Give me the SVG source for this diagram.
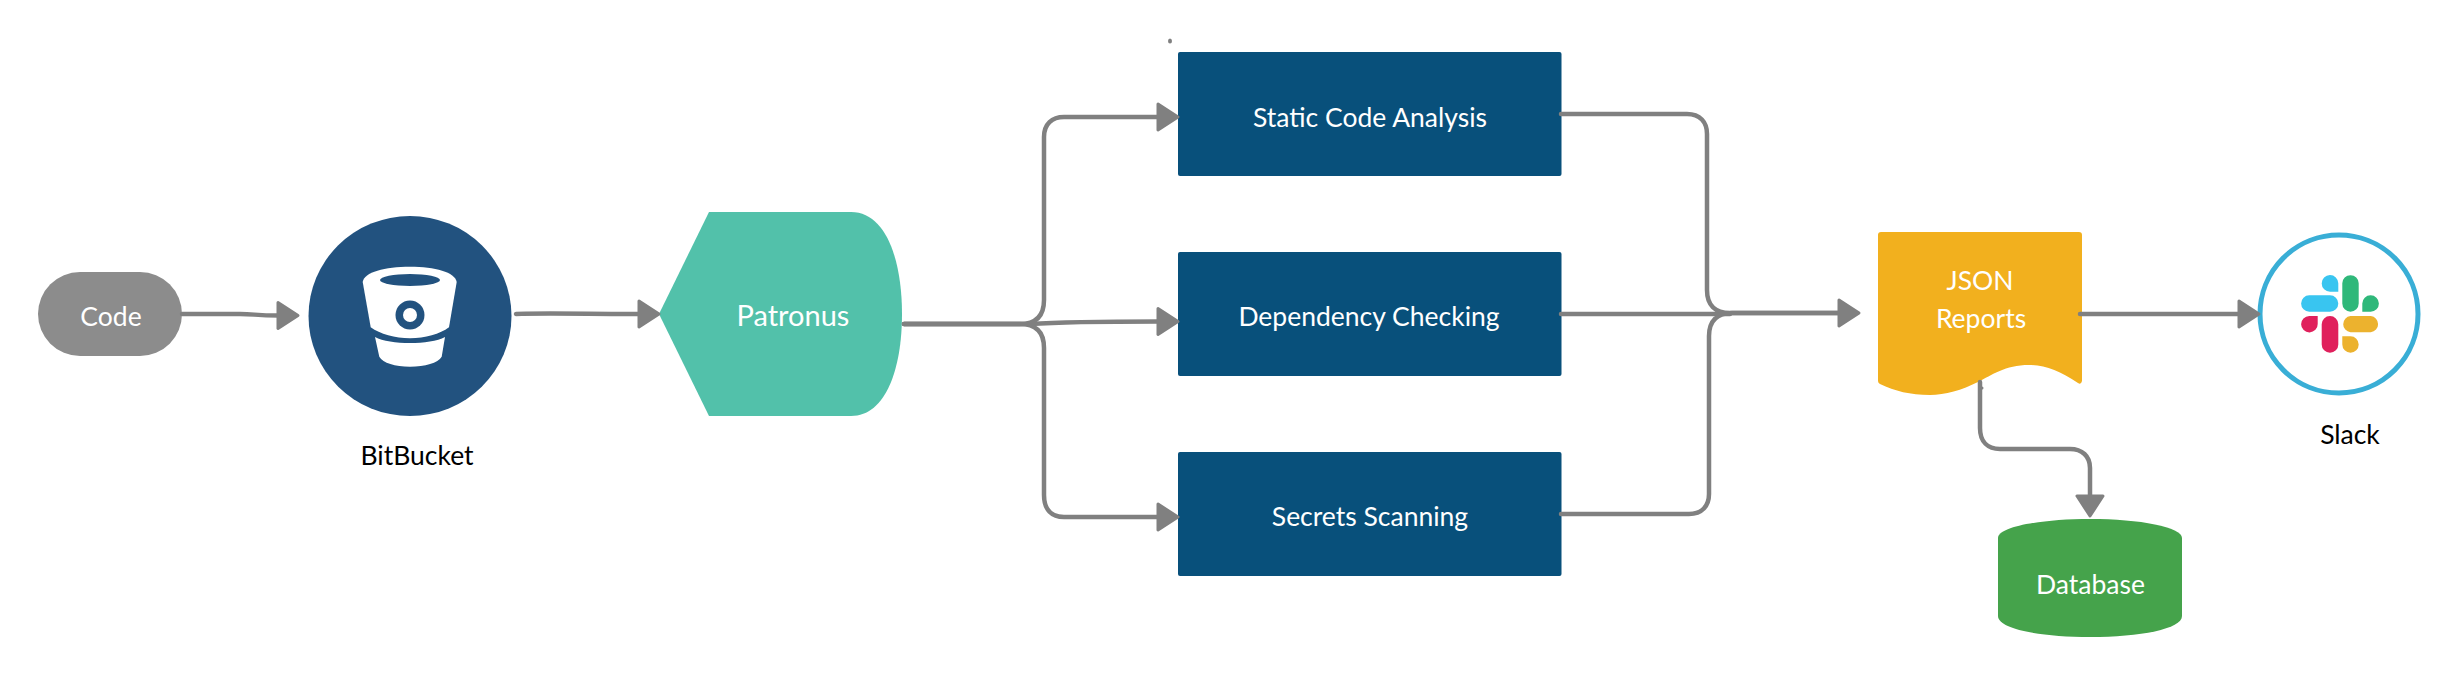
<svg xmlns="http://www.w3.org/2000/svg" width="2460" height="674" viewBox="0 0 2460 674">
<style>
.t{font-family:"Lato","Liberation Sans",sans-serif;font-size:26.500px;text-anchor:middle;fill:#fff}
.k{fill:#000}
.c{fill:none;stroke:#808080;stroke-width:4.500;stroke-linecap:round;stroke-linejoin:round}
.b{fill:#08507b}
</style>
<defs>
<marker id="a" markerUnits="userSpaceOnUse" markerWidth="28" markerHeight="34" refX="3" refY="16" orient="auto" overflow="visible">
<path d="M2 3L22 16L2 29z" fill="#808080" stroke="#808080" stroke-width="3" stroke-linejoin="round"/>
</marker>
</defs>
<rect width="2460" height="674" fill="#fff"/>
<g id="code"><rect x="38" y="272" width="144" height="84" rx="42" fill="#8c8c8c"/><text class="t" x="111" y="326">Code</text></g>
<g id="bitbucket">
<ellipse cx="410" cy="316" rx="101.500" ry="100" fill="#22527f"/>
<path fill="#fff" d="M362.700 282C364 272 385 266.700 410 266.700C435 266.700 455 272 456.700 282L449 327.300C440 334 425 338.300 410 338.300C395 338.300 380 334 370.700 327.300z"/>
<ellipse cx="410" cy="280" rx="30" ry="6" fill="#22527f"/>
<circle cx="410" cy="315" r="14.500" fill="#22527f"/><circle cx="410" cy="315" r="7" fill="#fff"/>
<path fill="#fff" d="M375 337C390 345 430 345 445 337L441.700 356.700C438 363 425 366.700 410 366.700C395 366.700 383 363 379.300 356.700z"/>
<text class="t k" x="417" y="465">BitBucket</text>
</g>
<g id="patronus"><path fill="#52c1aa" d="M709 212H851C886 212 902 260 902 314C902 368 886 416 851 416H709L659 314z"/><text class="t" style="font-size:29px" x="793" y="326">Patronus</text></g>
<g id="static"><rect class="b" x="1178" y="52" width="383.500" height="124" rx="2"/><text class="t" x="1370" y="126.500">Static Code Analysis</text></g>
<g id="dependency"><rect class="b" x="1178" y="252" width="383.500" height="124" rx="2"/><text class="t" x="1369" y="325.500">Dependency Checking</text></g>
<g id="secrets"><rect class="b" x="1178" y="452" width="383.500" height="124" rx="2"/><text class="t" x="1370" y="526">Secrets Scanning</text></g>
<g id="json"><path fill="#f2b01e" d="M1878 235q0-3 3-3H2079q3 0 3 3V381q-1 4-4 2C2060 371 2045 365 2029 365C2005 365 1992 375 1978 382C1962 390 1945 395 1930 395C1910 395 1895 391 1880 384q-2-1-2-3z"/><text class="t" x="1980" y="290">JSON</text><text class="t" x="1981" y="328">Reports</text></g>
<g id="database"><path fill="#45a34b" d="M1998 538C1998 527 2040 519 2090 519C2140 519 2182 527 2182 538V616C2182 629 2140 637 2090 637C2040 637 1998 629 1998 616z"/><text class="t" x="2090.500" y="594">Database</text></g>
<g id="slack">
<circle cx="2339" cy="314" r="79" fill="#fff" stroke="#39aed6" stroke-width="5"/>
<path fill="#39c5f0" d="M2338.300 291.700H2330A8.300 8.300 0 1 1 2338.300 283.300zM2309.300 295.300H2330A8.300 8.200 0 0 1 2338.300 303.500A8.300 8.200 0 0 1 2330 311.700H2309.300A8.200 8.200 0 0 1 2309.300 295.300z"/>
<path fill="#2fb87a" d="M2342.300 283.300A8.200 8.200 0 0 1 2358.700 283.300V303.500A8.200 8.200 0 0 1 2342.300 303.500zM2362.300 311.700V303.500A8.300 8.200 0 1 1 2370.700 311.700z"/>
<path fill="#e0205c" d="M2317.700 316V324A8.300 8.200 0 1 1 2309.300 316zM2321.700 324.200A8.300 8.200 0 0 1 2338.300 324.200V344.500A8.300 8.200 0 0 1 2321.700 344.500z"/>
<path fill="#ecb22e" d="M2350.500 316H2370.800A8.200 8.200 0 0 1 2370.800 332.300H2350.500A8.200 8.200 0 0 1 2350.500 316zM2342.300 336.300H2350.500A8.200 8.200 0 1 1 2342.300 344.500z"/>
<text class="t k" x="2350" y="444">Slack</text>
</g>
<g id="connectors">
<path class="c" d="M182 314H240C255 314 255 315.500 279 315.500" marker-end="url(#a)"/>
<path class="c" d="M516 314C540 313 590 314 640 314" marker-end="url(#a)"/>
<path class="c" d="M904 324H1020C1036 324 1044 316 1044 300V137C1044 124 1052 117 1064 117H1159" marker-end="url(#a)"/>
<path class="c" d="M904 324H1030C1060 322 1090 321.500 1159 321.500" marker-end="url(#a)"/>
<path class="c" d="M904 324H1020C1036 324 1044 332 1044 348V495C1044 510 1052 517 1064 517H1159" marker-end="url(#a)"/>
<path class="c" d="M1561 114H1687C1700 114 1707 122 1707 134V290C1707 305 1715 313 1730 313H1840" marker-end="url(#a)"/>
<path class="c" d="M1561 314H1730" />
<path class="c" d="M1561 514H1689C1702 514 1709 506 1709 494V336C1709 321 1717 313 1732 313H1840"/>
<path class="c" d="M2080 314H2240" marker-end="url(#a)"/>
<path class="c" d="M1980 382V428C1980 442 1988 449 2000 449H2070C2082 449 2090 456 2090 468V497" marker-end="url(#a)"/>
<circle cx="1982" cy="388" r="1.500" fill="#808080"/>
<ellipse cx="1170" cy="41" rx="2" ry="2.500" fill="#808080"/>
</g>
</svg>
